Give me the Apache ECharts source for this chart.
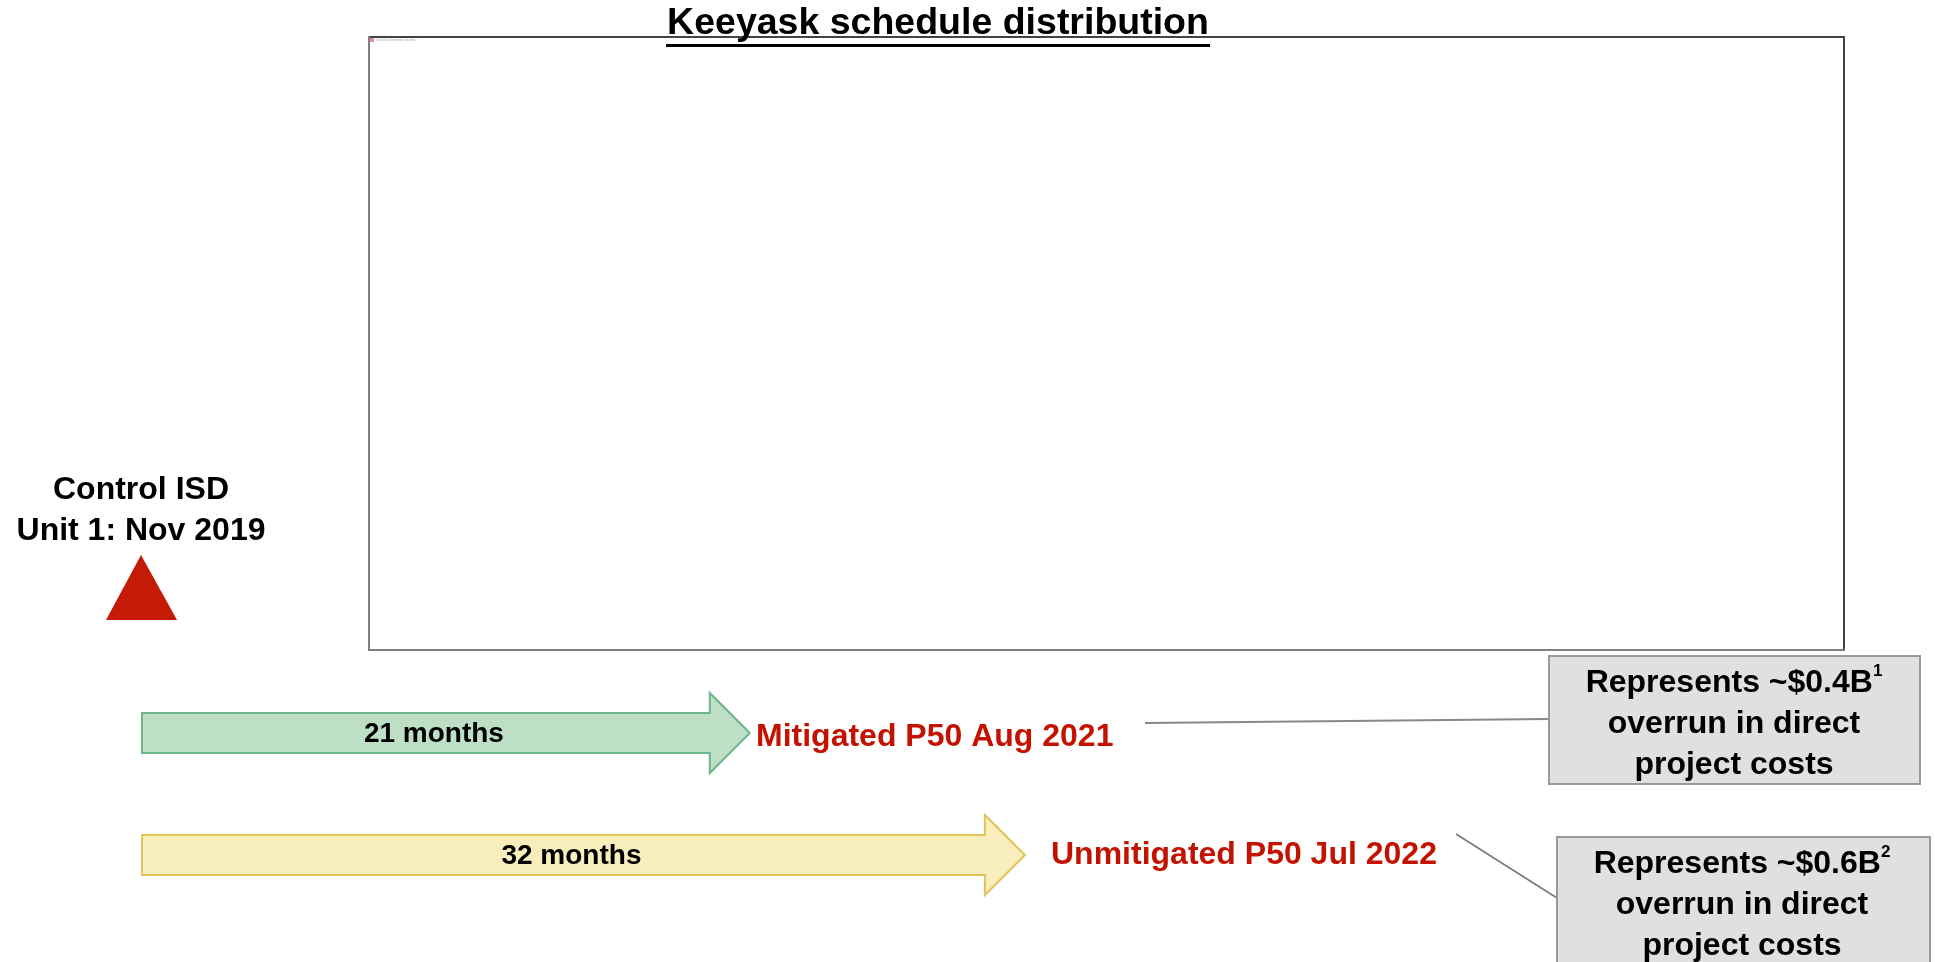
<!DOCTYPE html>
<html lang="en">
<head>
    <meta charset="UTF-8">
    <title>Keeyask schedule distribution</title>
    <script src="https://cdn.jsdelivr.net/npm/echarts@6/dist/echarts.min.js"></script>
    <style>
        html, body { margin: 0; padding: 0; background: #fff; }
        #main { width: 1935px; height: 962px; }
    </style>
</head>
<body>
<div id="main"></div>
<script type="text/javascript">
    // chart data
    var titleText = 'Keeyask schedule distribution';
    var controlLines = ['Control ISD', 'Unit 1: Nov 2019'];
    var scenarios = ['Mitigated', 'Unmitigated'];
    var months = [21, 32];
    var milestones = ['Mitigated P50 Aug 2021', 'Unmitigated P50 Jul 2022'];
    var overrunB = ['0.4', '0.6'];
    var footnotes = ['1', '2'];

    var FONT = '"Liberation Sans", Arial, sans-serif';
    var RED = '#c41200';
    var arrowFill = ['#bcdfc5', '#f8eebb'];
    var arrowStroke = ['#6db58b', '#e2c35a'];

    var myChart = echarts.init(document.getElementById('main'));

    function renderArrow(params, api) {
        var idx = params.dataIndex;
        var tip = api.coord([api.value(0), api.value(1)]);
        var x0 = params.coordSys.x;
        var cy = tip[1];
        var headLen = 40, bodyHalf = 20, headHalf = 40;
        var neck = tip[0] - headLen;
        return {
            type: 'group',
            children: [{
                type: 'polygon',
                shape: {
                    points: [
                        [x0, cy - bodyHalf], [neck, cy - bodyHalf], [neck, cy - headHalf],
                        [tip[0], cy], [neck, cy + headHalf], [neck, cy + bodyHalf], [x0, cy + bodyHalf]
                    ]
                },
                style: { fill: arrowFill[idx], stroke: arrowStroke[idx], lineWidth: 2 }
            }, {
                type: 'text',
                x: (x0 + neck) / 2 + 8,
                y: cy + 1,
                style: {
                    text: api.value(0) + ' months',
                    fill: '#000',
                    font: 'bold 28px ' + FONT,
                    align: 'center',
                    verticalAlign: 'middle'
                }
            }]
        };
    }

    function calloutText(i) {
        return '{t|Represents ~$' + overrunB[i] + 'B}{sup|' + footnotes[i] + '}\n{t|overrun in direct}\n{t|project costs}';
    }
    var calloutRich = {
        t: { fontSize: 32, fontWeight: 'bold', fontFamily: FONT, color: '#000', lineHeight: 41 },
        sup: { fontSize: 17, fontWeight: 'bold', fontFamily: FONT, color: '#000', lineHeight: 41, verticalAlign: 'top', padding: [0, 0, 12, 0] }
    };

    myChart.setOption({
        animation: false,
        legend: {
            left: 370,
            top: 38,
            itemWidth: 4,
            itemHeight: 4,
            itemGap: 2,
            padding: 0,
            icon: 'rect',
            textStyle: { fontSize: 3, color: '#aaa', padding: [0, 0, 0, -3] },
            data: ['Schedule distribution (months)']
        },
        grid: [{
            left: 369, top: 37, width: 1475, height: 613,
            show: true, borderColor: '#444', borderWidth: 2, backgroundColor: '#fff'
        }, {
            left: 142, top: 672, width: 1083, height: 244
        }],
        xAxis: [{
            gridIndex: 0, type: 'value', min: 0, max: 1,
            axisLine: { show: true, lineStyle: { color: '#808080', width: 2 } },
            axisTick: { show: false }, axisLabel: { show: false }, splitLine: { show: false }
        }, {
            gridIndex: 1, type: 'value', min: -3.3, max: 40, show: false
        }],
        yAxis: [{
            gridIndex: 0, type: 'value', min: 0, max: 1,
            axisLine: { show: true, lineStyle: { color: '#808080', width: 2 } },
            axisTick: { show: false }, axisLabel: { show: false }, splitLine: { show: false }
        }, {
            gridIndex: 1, type: 'category', inverse: true, data: scenarios, show: false
        }],
        series: [{
            name: 'Schedule distribution (months)',
            type: 'line',
            xAxisIndex: 0,
            yAxisIndex: 0,
            color: '#e88a9a',
            data: []
        }, {
            type: 'custom',
            xAxisIndex: 1,
            yAxisIndex: 1,
            renderItem: renderArrow,
            data: months.map(function (m, i) { return [m, i]; })
        }],
        graphic: [{
            type: 'text', x: 938, y: 24,
            style: { text: titleText, font: 'bold 37.5px ' + FONT, fill: '#000', align: 'center', verticalAlign: 'middle' }
        }, {
            type: 'line', shape: { x1: 666, y1: 45.5, x2: 1210, y2: 45.5 },
            style: { stroke: '#000', lineWidth: 3 }
        }, {
            type: 'text', x: 141, y: 490,
            style: { text: controlLines[0], font: 'bold 32px ' + FONT, fill: '#000', align: 'center', verticalAlign: 'middle' }
        }, {
            type: 'text', x: 141, y: 531,
            style: { text: controlLines[1], font: 'bold 32px ' + FONT, fill: '#000', align: 'center', verticalAlign: 'middle' }
        }, {
            type: 'polygon', shape: { points: [[141, 555], [177, 620], [106, 620]] },
            style: { fill: '#c41a06' }
        }, {
            type: 'text', x: 756, y: 737,
            style: { text: milestones[0], font: 'bold 32px ' + FONT, fill: RED, align: 'left', verticalAlign: 'middle' }
        }, {
            type: 'text', x: 1051, y: 855,
            style: { text: milestones[1], font: 'bold 32px ' + FONT, fill: RED, align: 'left', verticalAlign: 'middle' }
        }, {
            type: 'line', shape: { x1: 1145, y1: 723, x2: 1549, y2: 719 },
            style: { stroke: '#888', lineWidth: 2 }
        }, {
            type: 'line', shape: { x1: 1456, y1: 834, x2: 1557, y2: 898 },
            style: { stroke: '#777', lineWidth: 1.5 }
        }, {
            type: 'rect', shape: { x: 1549, y: 656, width: 371, height: 128 },
            style: { fill: '#e0e0e0', stroke: '#999', lineWidth: 2 }
        }, {
            type: 'rect', shape: { x: 1557, y: 837, width: 373, height: 150 },
            style: { fill: '#e0e0e0', stroke: '#999', lineWidth: 2 }
        }, {
            type: 'text', x: 1734, y: 724,
            style: { text: calloutText(0), rich: calloutRich, align: 'center', verticalAlign: 'middle' }
        }, {
            type: 'text', x: 1742, y: 905,
            style: { text: calloutText(1), rich: calloutRich, align: 'center', verticalAlign: 'middle' }
        }]
    });
</script>
</body>
</html>
